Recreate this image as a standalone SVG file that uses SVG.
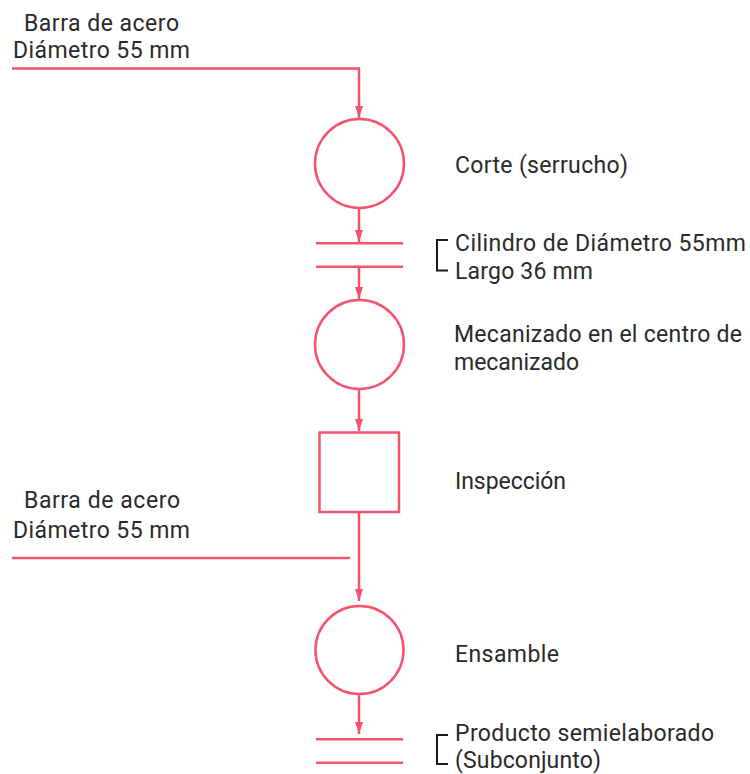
<svg xmlns="http://www.w3.org/2000/svg" width="750" height="774" viewBox="0 0 750 774">
<style>
.ln{fill:none;stroke:#F5526E;stroke-width:2.5}
.br{fill:none;stroke:#1a1a1a;stroke-width:2}
.tx{font-family:Roboto,"Liberation Sans",sans-serif;font-size:23px;fill:#2a2a2a}
</style>
<defs>
<marker id="ah" viewBox="0 0 12 8" refX="12" refY="4" markerWidth="12" markerHeight="8" markerUnits="userSpaceOnUse" orient="auto">
<path d="M0,0 L12,4 L0,8 Z" fill="#F5526E"/>
</marker>
</defs>
<rect width="750" height="774" fill="#ffffff"/>
<g id="connectors">
<path class="ln" d="M12,68.5 H359 V118" marker-end="url(#ah)"/>
<path class="ln" d="M359,208 V242" marker-end="url(#ah)"/>
<path class="ln" d="M359,267 V299" marker-end="url(#ah)"/>
<path class="ln" d="M359,389 V431" marker-end="url(#ah)"/>
<path class="ln" d="M359,512 V601" marker-end="url(#ah)"/>
<path class="ln" d="M12,558 H350"/>
<path class="ln" d="M359,694 V734" marker-end="url(#ah)"/>
</g>
<g id="input1">
<text class="tx" x="24" y="31" textLength="155">Barra de acero</text>
<text class="tx" x="13" y="57.5" textLength="177">Diámetro 55 mm</text>
</g>
<g id="corte">
<circle class="ln" cx="359.5" cy="163.5" r="44.5"/>
<text class="tx" x="455" y="173" textLength="173">Corte (serrucho)</text>
</g>
<g id="almacen1">
<line class="ln" x1="316" y1="243.3" x2="403" y2="243.3"/>
<line class="ln" x1="316" y1="266.7" x2="403" y2="266.7"/>
<path class="br" d="M448,240 H437 V270.5 H448"/>
<text class="tx" x="455" y="251" textLength="291">Cilindro de Diámetro 55mm</text>
<text class="tx" x="455" y="279.3" textLength="138">Largo 36 mm</text>
</g>
<g id="mecanizado">
<circle class="ln" cx="359.5" cy="344.5" r="44.5"/>
<text class="tx" x="454" y="342.3" textLength="288">Mecanizado en el centro de</text>
<text class="tx" x="454" y="370" textLength="125">mecanizado</text>
</g>
<g id="inspeccion">
<rect class="ln" x="319.5" y="432.5" width="79.5" height="79.5"/>
<text class="tx" x="455" y="489.3" textLength="111">Inspección</text>
</g>
<g id="input2">
<text class="tx" x="24" y="508.3" textLength="156">Barra de acero</text>
<text class="tx" x="13" y="538.3" textLength="177">Diámetro 55 mm</text>
</g>
<g id="ensamble">
<circle class="ln" cx="359.5" cy="650" r="44"/>
<text class="tx" x="455" y="661.7" textLength="104">Ensamble</text>
</g>
<g id="almacen2">
<line class="ln" x1="316" y1="739.3" x2="403" y2="739.3"/>
<line class="ln" x1="316" y1="762.7" x2="403" y2="762.7"/>
<path class="br" d="M448,735 H437 V764 H448"/>
<text class="tx" x="455" y="741" textLength="259">Producto semielaborado</text>
<text class="tx" x="455" y="767.5" textLength="146">(Subconjunto)</text>
</g>
</svg>
